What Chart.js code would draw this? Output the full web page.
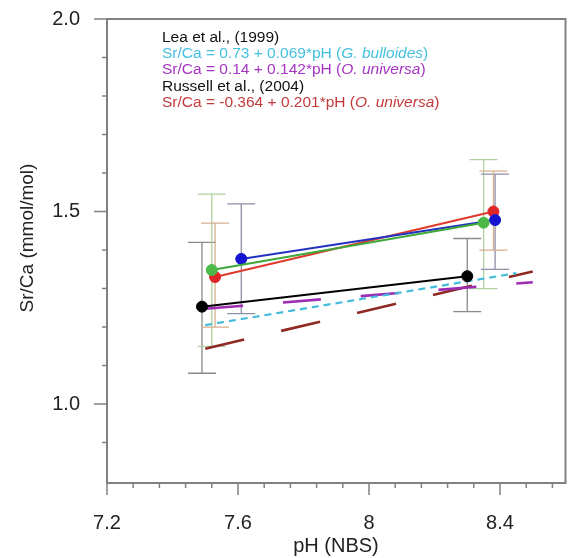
<!DOCTYPE html>
<html><head><meta charset="utf-8">
<script src="https://cdn.jsdelivr.net/npm/chart.js@4.4.0/dist/chart.umd.min.js"></script>
<style>html,body{margin:0;padding:0;background:#fff;}#wrap{width:572px;height:558px;}</style>
</head><body><div id="wrap"><canvas id="c" width="572" height="558"></canvas></div>
<script>
// ---- axes / ticks ----
const xMajorTicks = [7.2, 7.6, 8, 8.4];
const xMinorTicks = [7.28, 7.36, 7.44, 7.52, 7.68, 7.76, 7.84, 7.92, 8.08, 8.16, 8.24, 8.32, 8.48, 8.56];
const yMajorTicks = [1.0, 1.5, 2.0];
const yMinorTicks = [0.9, 1.1, 1.2, 1.3, 1.4, 1.6, 1.7, 1.8, 1.9];
const xTitle = 'pH (NBS)';
const yTitle = 'Sr/Ca (mmol/mol)';

// ---- measured series (pH, Sr/Ca, error low, error high) ----
const blackPH = [7.49, 8.30];
const blackSrCa = [1.253, 1.332];
const blackLow = [1.08, 1.24];
const blackHigh = [1.42, 1.43];

const greenPH = [7.52, 8.35];
const greenSrCa = [1.348, 1.471];
const greenLow = [1.15, 1.30];
const greenHigh = [1.545, 1.635];

const bluePH = [7.61, 8.385];
const blueSrCa = [1.377, 1.478];
const blueLow = [1.235, 1.35];
const blueHigh = [1.52, 1.597];

const redPH = [7.53, 8.38];
const redSrCa = [1.33, 1.50];
const redLow = [1.20, 1.40];
const redHigh = [1.47, 1.605];

// ---- calibration lines (end points) ----
const cyanFitPH = [7.5, 8.45];
const cyanFitSrCa = [1.205, 1.34];
const purpleFitPH = [7.5, 8.5];
const purpleFitSrCa = [1.2475, 1.3165];
const brownFitPH = [7.5, 8.5];
const brownFitSrCa = [1.1435, 1.3445];

// ---- legend text ----
const legendLines = [
  {color: '#111111', parts: [['Lea et al., (1999)', false]]},
  {color: '#45bfe0', parts: [['Sr/Ca = 0.73 + 0.069*pH (', false], ['G. bulloides', true], [')', false]]},
  {color: '#a535c0', parts: [['Sr/Ca = 0.14 + 0.142*pH (', false], ['O. universa', true], [')', false]]},
  {color: '#111111', parts: [['Russell et al., (2004)', false]]},
  {color: '#c23a3a', parts: [['Sr/Ca = -0.364 + 0.201*pH (', false], ['O. universa', true], [')', false]]}
];

function pts(xs, ys) { return xs.map((x, i) => ({x: x, y: ys[i]})); }

const FONT = "'Liberation Sans', Arial, sans-serif";

const measured = [
  {label: 'black', xs: blackPH, ys: blackSrCa, lo: blackLow, hi: blackHigh, line: '#000000', dot: '#000000', err: '#8a8a8a'},
  {label: 'green', xs: greenPH, ys: greenSrCa, lo: greenLow, hi: greenHigh, line: '#3fa83a', dot: '#4cb848', err: '#aed3a0'},
  {label: 'blue', xs: bluePH, ys: blueSrCa, lo: blueLow, hi: blueHigh, line: '#2333c0', dot: '#1515d0', err: '#8d8fa6'},
  {label: 'red', xs: redPH, ys: redSrCa, lo: redLow, hi: redHigh, line: '#e0382a', dot: '#e02626', err: '#d6b08e'}
];

const datasets = measured.map(m => ({
  label: m.label,
  data: pts(m.xs, m.ys),
  showLine: true,
  borderColor: m.line,
  borderWidth: 2,
  pointRadius: 5.5,
  pointBackgroundColor: m.dot,
  pointBorderColor: m.dot,
  pointBorderWidth: 1
}));
datasets.push(
  {label: 'cyanFit', data: pts(cyanFitPH, cyanFitSrCa), showLine: true, borderColor: '#45bbdc', borderWidth: 2.2, borderDash: [7, 5], pointRadius: 0},
  {label: 'purpleFit', data: pts(purpleFitPH, purpleFitSrCa), showLine: true, borderColor: '#9c2cb4', borderWidth: 2.6, borderDash: [38, 40], pointRadius: 0},
  {label: 'brownFit', data: pts(brownFitPH, brownFitSrCa), showLine: true, borderColor: '#8e2a22', borderWidth: 2.6, borderDash: [40, 38], pointRadius: 0}
);

const decor = {
  id: 'decor',
  beforeDatasetsDraw(chart) {
    const ctx = chart.ctx, xs = chart.scales.x, ys = chart.scales.y;
    ctx.save();
    ctx.lineWidth = 1.3;
    measured.forEach(m => {
      ctx.strokeStyle = m.err;
      m.xs.forEach((x, i) => {
        const px = xs.getPixelForValue(x);
        const pl = ys.getPixelForValue(m.lo[i]);
        const ph = ys.getPixelForValue(m.hi[i]);
        ctx.beginPath();
        ctx.moveTo(px, pl); ctx.lineTo(px, ph);
        ctx.moveTo(px - 14, pl); ctx.lineTo(px + 14, pl);
        ctx.moveTo(px - 14, ph); ctx.lineTo(px + 14, ph);
        ctx.stroke();
      });
    });
    ctx.restore();
  },
  afterDraw(chart) {
    const ctx = chart.ctx, a = chart.chartArea, xs = chart.scales.x, ys = chart.scales.y;
    ctx.save();
    // frame
    ctx.strokeStyle = '#808080';
    ctx.lineWidth = 2;
    ctx.strokeRect(a.left, a.top, a.right - a.left, a.bottom - a.top);
    // ticks
    ctx.lineWidth = 1.5;
    ctx.beginPath();
    xMajorTicks.forEach(v => { const p = xs.getPixelForValue(v); ctx.moveTo(p, a.bottom); ctx.lineTo(p, a.bottom + 12); });
    xMinorTicks.forEach(v => { const p = xs.getPixelForValue(v); ctx.moveTo(p, a.bottom); ctx.lineTo(p, a.bottom + 5); });
    yMajorTicks.forEach(v => { const p = ys.getPixelForValue(v); ctx.moveTo(a.left - 13, p); ctx.lineTo(a.left, p); });
    yMinorTicks.forEach(v => { const p = ys.getPixelForValue(v); ctx.moveTo(a.left - 5, p); ctx.lineTo(a.left, p); });
    ctx.stroke();
    // axis titles
    ctx.fillStyle = '#222222';
    ctx.font = '20px ' + FONT;
    ctx.textAlign = 'center';
    ctx.textBaseline = 'middle';
    ctx.fillText(xTitle, 336, 546);
    ctx.save();
    ctx.translate(28, 238);
    ctx.rotate(-Math.PI / 2);
    ctx.font = '19px ' + FONT;
    ctx.fillText(yTitle, 0, 0);
    ctx.restore();
    // legend text
    ctx.textAlign = 'left';
    ctx.textBaseline = 'alphabetic';
    legendLines.forEach((ln, i) => {
      let x = 162;
      const y = 41.5 + i * 16.4;
      ctx.fillStyle = ln.color;
      ln.parts.forEach(([t, it]) => {
        ctx.font = (it ? 'italic ' : '') + '15.5px ' + FONT;
        ctx.fillText(t, x, y);
        x += ctx.measureText(t).width;
      });
    });
    ctx.restore();
  }
};

new Chart(document.getElementById('c'), {
  type: 'scatter',
  data: {datasets: datasets},
  options: {
    responsive: false,
    animation: false,
    devicePixelRatio: 1,
    layout: {padding: {top: 19, right: 2, left: 0, bottom: 0}},
    plugins: {legend: {display: false}, tooltip: {enabled: false}},
    scales: {
      x: {
        type: 'linear', min: 7.2, max: 8.6,
        grid: {display: false, drawTicks: false},
        border: {display: false},
        afterBuildTicks: s => { s.ticks = xMajorTicks.map(v => ({value: v})); },
        afterFit: s => { s.height = 75; s.paddingLeft = 0; s.paddingRight = 0; },
        ticks: {padding: 28, color: '#222222', font: {size: 20, family: FONT}, maxRotation: 0, autoSkip: false,
          callback: v => String(v)}
      },
      y: {
        type: 'linear', min: 0.795, max: 2.0,
        grid: {display: false, drawTicks: false},
        border: {display: false},
        afterBuildTicks: s => { s.ticks = yMajorTicks.map(v => ({value: v})); },
        afterFit: s => { s.width = 107; s.paddingTop = 0; s.paddingBottom = 0; },
        ticks: {padding: 27, color: '#222222', font: {size: 20, family: FONT}, autoSkip: false,
          callback: v => Number(v).toFixed(1)}
      }
    }
  },
  plugins: [decor]
});
</script>
</body></html>
